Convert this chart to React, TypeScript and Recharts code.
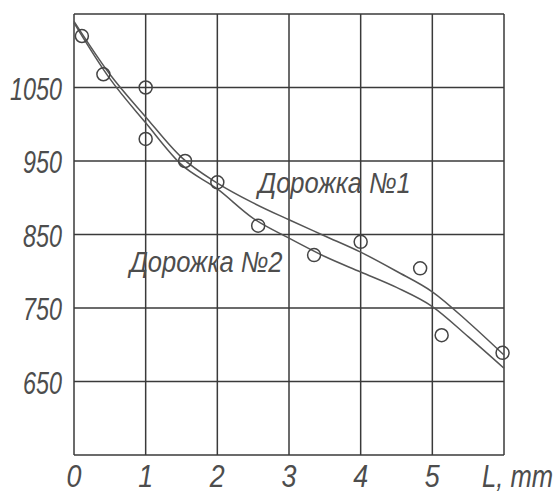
import React from "react";
import {
  ComposedChart,
  Line,
  Scatter,
  XAxis,
  YAxis,
  CartesianGrid,
  ReferenceDot,
} from "recharts";

// fitted curves, sampled along L (mm)
const curveL = [0, 0.5, 1, 1.5, 2, 2.5, 3, 3.5, 4, 4.5, 5, 5.5, 6];
const track1 = [1140, 1068, 1010, 955, 920, 893, 870, 848, 826, 800, 772, 731, 686];
const track2 = [1138, 1062, 1002, 945, 912, 872, 845, 820, 799, 778, 752, 711, 668];

// measured points
const pointL = [0.11, 0.41, 1, 1, 1.55, 2, 2.57, 3.35, 4, 4.83, 5.13, 5.98];
const pointV = [1120, 1068, 1050, 980, 950, 921, 862, 822, 840, 804, 713, 689];

const xTicks = [0, 1, 2, 3, 4, 5, 6];
const xTickLabels = ["0", "1", "2", "3", "4", "5", "L, mm"];
const yTicks = [550, 650, 750, 850, 950, 1050, 1150];
const yTickLabels = ["", "650", "750", "850", "950", "1050", ""];

const labels = [
  { text: "Дорожка №1", x: 2.57, y: 906 },
  { text: "Дорожка №2", x: 0.78, y: 799 },
];

const lineData = curveL.map((x, i) => ({ x, t1: track1[i], t2: track2[i] }));
const pointData = pointL.map((x, i) => ({ x, v: pointV[i] }));

const FONT = "'Liberation Sans', Arial, sans-serif";
const INK = "#4d4d4d";

// no narrow font installed, so squeeze the glyphs horizontally
function NarrowText({ x, y, sx, size, anchor, children }: any) {
  return (
    <text
      transform={`translate(${x},${y}) scale(${sx},1)`}
      textAnchor={anchor}
      fontFamily={FONT}
      fontStyle="italic"
      fontSize={size}
      fill={INK}
    >
      {children}
    </text>
  );
}

function XTick({ x, y, payload }: any) {
  const i = xTicks.indexOf(payload.value);
  const last = i === xTicks.length - 1;
  return (
    <NarrowText
      x={last ? x - 22 : x}
      y={y + 24}
      sx={last ? 0.8 : 0.84}
      size={32}
      anchor={last ? "start" : "middle"}
    >
      {xTickLabels[i]}
    </NarrowText>
  );
}

function YTick({ x, y, payload }: any) {
  const i = yTicks.indexOf(payload.value);
  return (
    <NarrowText x={x - 4} y={y + 12} sx={0.73} size={32} anchor="end">
      {yTickLabels[i]}
    </NarrowText>
  );
}

function CurveLabel({ viewBox, value }: any) {
  return (
    <NarrowText x={viewBox.x} y={viewBox.y} sx={0.88} size={29} anchor="start">
      {value}
    </NarrowText>
  );
}

export default function App() {
  return (
    <div style={{ position: "absolute", left: 0, top: 0, background: "#fff" }}>
      <ComposedChart
        width={558}
        height={497}
        data={lineData}
        margin={{ top: 14, right: 54, bottom: 0, left: 0 }}
      >
        <CartesianGrid stroke="#3a3a3a" strokeWidth={1.5} />
        <XAxis
          type="number"
          dataKey="x"
          domain={[0, 6]}
          ticks={xTicks}
          height={42}
          axisLine={false}
          tickLine={false}
          tick={<XTick />}
          interval={0}
        />
        <YAxis
          type="number"
          domain={[550, 1150]}
          ticks={yTicks}
          width={74}
          axisLine={false}
          tickLine={false}
          tick={<YTick />}
          interval={0}
        />
        <Line
          type="monotone"
          dataKey="t1"
          stroke="#555"
          strokeWidth={1.5}
          dot={false}
          isAnimationActive={false}
        />
        <Line
          type="monotone"
          dataKey="t2"
          stroke="#555"
          strokeWidth={1.5}
          dot={false}
          isAnimationActive={false}
        />
        <Scatter
          data={pointData}
          dataKey="v"
          fill="none"
          stroke="#444"
          strokeWidth={1.5}
          shape={(p: any) => (
            <circle cx={p.cx} cy={p.cy} r={6.5} fill="none" stroke="#444" strokeWidth={1.5} />
          )}
          isAnimationActive={false}
        />
        {labels.map((l) => (
          <ReferenceDot
            key={l.text}
            x={l.x}
            y={l.y}
            r={0}
            stroke="none"
            label={<CurveLabel value={l.text} />}
          />
        ))}
      </ComposedChart>
    </div>
  );
}
